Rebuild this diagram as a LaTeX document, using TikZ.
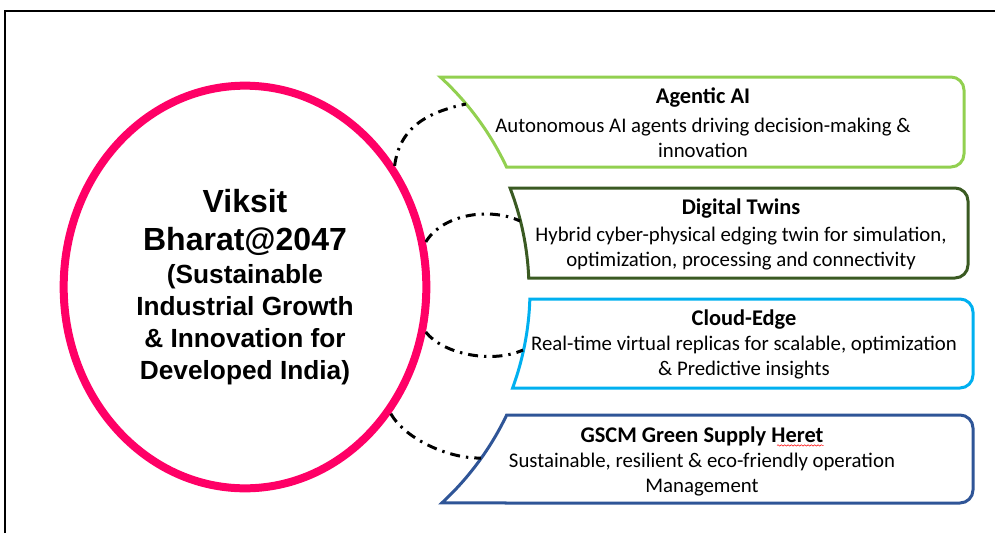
\documentclass[tikz,border=0pt]{standalone}
\usepackage{fontspec}
\setmainfont{Carlito}
\newfontfamily\arialfont{Liberation Sans}
\usetikzlibrary{shapes.geometric,decorations.pathmorphing}
\definecolor{vbpink}{HTML}{FF0066}
\definecolor{aigreen}{HTML}{92D050}
\definecolor{twingreen}{HTML}{3A5A22}
\definecolor{cloudblue}{HTML}{00B0F0}
\definecolor{gscmblue}{HTML}{2F5597}
\tikzset{
  card/.style={line width=2.25pt},
  ttl/.style={font=\fontsize{16.8}{20}\selectfont\bfseries,inner sep=0pt},
  txt/.style={font=\fontsize{15.6}{18.8}\selectfont,align=center,inner sep=0pt},
  link/.style={line width=2.25pt,dash pattern=on 7.5pt off 4.5pt on 1.8pt off 4.5pt},
}
\begin{document}
\begin{tikzpicture}[x=0.75pt,y=-0.75pt]
\useasboundingbox (0,0) rectangle (995,533);
\draw[line width=1.5pt] (5,533)--(5,11)--(995,11);

% centre
\node[draw=vbpink,line width=6pt,ellipse,minimum width=272pt,minimum height=302pt,inner sep=0pt,align=center,
  font=\arialfont\bfseries\fontsize{19.7}{24}\selectfont] (vb) at (245,287)
{{\fontsize{24}{29}\selectfont Viksit}\\[4.5pt]{\fontsize{24}{29}\selectfont Bharat@2047}\\[1pt]
(Sustainable\\Industrial Growth\\\& Innovation for\\Developed India)};

% cards, left side on a circle round the centre
\foreach \yt/\yb/\xr/\R/\col in {77/167/964/289/aigreen,188/278/968/284/twingreen,
  299/388/973/285/cloudblue,415/503/973/290/gscmblue}
{
    \pgfmathsetmacro\at{asin((\yt-290)/\R)}
    \pgfmathsetmacro\ab{asin((\yb-290)/\R)}
    \draw[card,\col] ([shift={(\ab:\R)}]245,290) arc[start angle=\ab,end angle=\at,radius=\R]
      --(\xr-30,\yt) [rounded corners=9.75pt] --(\xr,\yt)--(\xr,\yb)--(\xr-30,\yb) [sharp corners] --cycle;
}

\node[ttl] (agentic) at (703,98){Agentic AI};
\node[txt] (agentic-d) at (703,138){Autonomous AI agents driving decision-making \&\\innovation};
\node[ttl] (twins) at (741,209){Digital Twins};
\node[txt] (twins-d) at (741,249){Hybrid cyber-physical edging twin for simulation,\\optimization, processing and connectivity};
\node[ttl] (cloud) at (744,320){Cloud-Edge};
\node[txt] (cloud-d) at (744,358){Real-time virtual replicas for scalable, optimization\\\& Predictive insights};
\node[ttl] (gscm) at (702,436){GSCM Green Supply Heret};
\node[txt] (gscm-d) at (702,475){Sustainable, resilient \& eco-friendly operation\\Management};
\draw[red,line width=0.4pt,decorate,decoration={snake,amplitude=0.5pt,segment length=2.5pt}]
  ([xshift=-35pt,yshift=-2.5pt]gscm.base east)--([yshift=-2.5pt]gscm.base east);

% dash-dot links
\coordinate (agentic-in) at (466,104);
\coordinate (twins-in) at (520,221);
\coordinate (cloud-in) at (523,350);
\coordinate (gscm-in) at (481,458);
\draw[link] (vb.39) .. controls +(5,-39) and +(-38,8) .. (agentic-in);
\draw[link] (vb.14) .. controls +(17,-28) and +(-30,-14) .. (twins-in);
\draw[link] (vb.-14) .. controls +(17,22) and +(-31,14) .. (cloud-in);
\draw[link] (vb.-41) .. controls +(15,26) and +(-31,1) .. (gscm-in);
\end{tikzpicture}
\end{document}
